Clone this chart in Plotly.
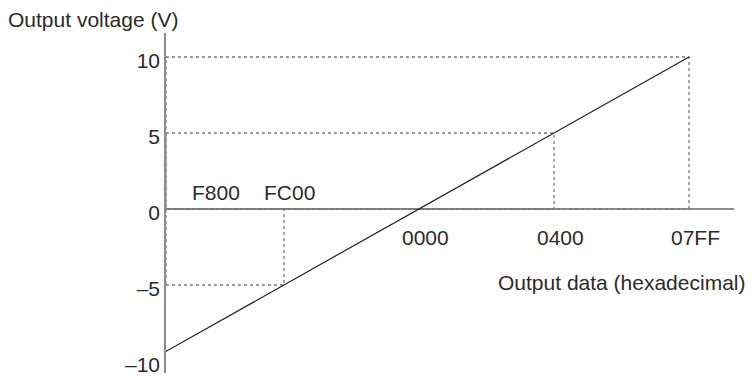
import plotly.graph_objects as go

# output data codes (hex) and matching output voltages
hex_labels = ["F800", "FC00", "0000", "0400", "07FF"]
hex_values = [-2048, -1024, 0, 1024, 2047]
voltages = [-10, -5, 0, 5, 10]

# y axis ticks
y_ticks = [-10, -5, 0, 5, 10]
y_tick_text = ["\u201310", "\u20135", "0", "5", "10"]

# codes that get dotted guide lines
guide_labels = ["FC00", "0400", "07FF"]

x_range = [-1918, 2388]
y_range = [-10.79, 11.58]
x_left = x_range[0]

txt = "#2b2b2b"
font = dict(family="Liberation Sans, Arial, sans-serif", size=21, color=txt)

fig = go.Figure()

# dotted guide boxes
for lab in guide_labels:
    i = hex_labels.index(lab)
    xv, v = hex_values[i], voltages[i]
    fig.add_trace(go.Scatter(
        x=[x_left, xv, xv, x_left, x_left], y=[v, v, 0, 0, v],
        mode="lines", line=dict(color="#7a7a7a", width=1.3, dash="dot"),
        hoverinfo="skip"))

# conversion line F800 -> 07FF
fig.add_trace(go.Scatter(
    x=[hex_values[0], hex_values[-1]], y=[voltages[0], voltages[-1]],
    mode="lines", line=dict(color="#1e1e1e", width=1.2), hoverinfo="skip"))

# hex labels: negative codes above the axis, the rest below
for lab, xv in zip(hex_labels, hex_values):
    if lab == "F800":
        fig.add_annotation(x=x_left, y=0, text=lab, showarrow=False, font=font,
                           xanchor="left", yanchor="middle", xshift=24, yshift=17)
    elif xv < 0:
        fig.add_annotation(x=xv, y=0, text=lab, showarrow=False, font=font,
                           xanchor="center", yanchor="middle", xshift=6, yshift=17)
    else:
        fig.add_annotation(x=xv, y=0, text=lab, showarrow=False, font=font,
                           xanchor="center", yanchor="middle", xshift=6, yshift=-28)

fig.add_annotation(xref="paper", yref="paper", x=0, y=1, text="Output voltage (V)",
                   showarrow=False, font=font, xanchor="left", yanchor="middle",
                   xshift=-160, yshift=14)
fig.add_annotation(xref="paper", x=1, y=0, text="Output data (hexadecimal)",
                   showarrow=False, font=font, xanchor="right", yanchor="middle",
                   xshift=13, yshift=-73)

fig.update_xaxes(range=x_range, showgrid=False, zeroline=False, showline=False,
                 showticklabels=False, ticks="", automargin=False)
fig.update_yaxes(range=y_range, showgrid=False, zeroline=True, zerolinecolor="#8c8c8c",
                 zerolinewidth=1.6, showline=True, linecolor="#8c8c8c", linewidth=1.6,
                 tickvals=y_ticks, ticktext=y_tick_text, ticks="", tickfont=font,
                 ticklabelshift=4, ticklabeloverflow="allow", automargin=False)

fig.update_layout(width=754, height=377, margin=dict(l=166, r=20, t=33, b=4),
                  plot_bgcolor="white", paper_bgcolor="white", showlegend=False,
                  hovermode=False)

# page body has a default 8px margin; drop it so the figure sits at 0,0
fig.write_html("out.html", config={"displayModeBar": False},
               post_script="document.body.style.margin='0';")
